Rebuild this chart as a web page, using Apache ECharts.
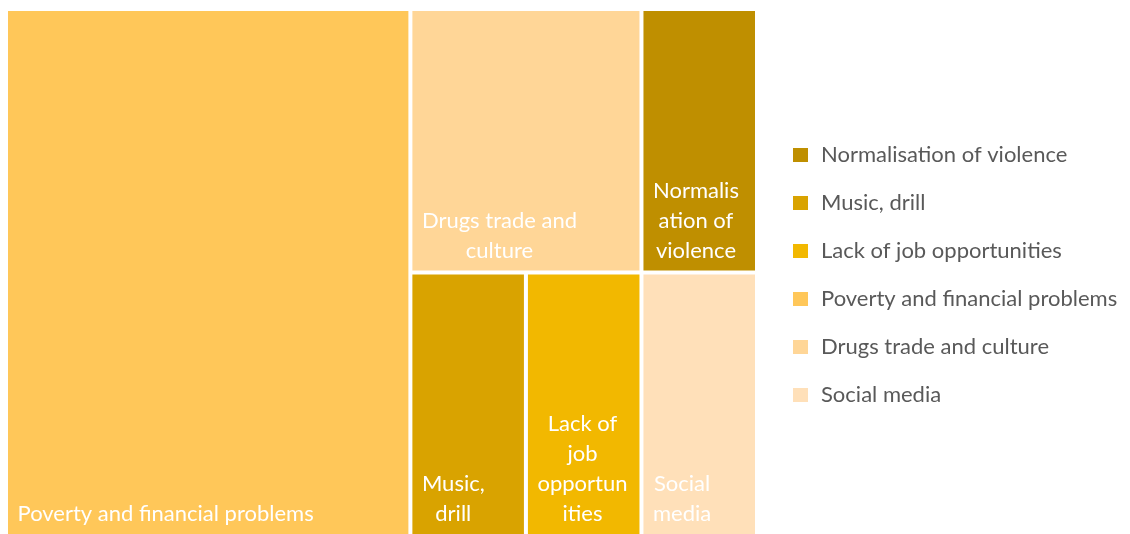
<!DOCTYPE html>
<html>
<head>
<meta charset="utf-8">
<title>Perceived causes of youth violence</title>
<script src="https://cdn.jsdelivr.net/npm/echarts@6/dist/echarts.min.js"></script>
<style>
  html, body { margin: 0; padding: 0; background: #ffffff; }
  #chart { width: 1130px; height: 534px; }
</style>
</head>
<body>
<div id="chart"></div>
<script>
// Causes and number of mentions
const categories = [
  'Poverty and financial problems',
  'Drugs trade and culture',
  'Normalisation of violence',
  'Music, drill',
  'Lack of job opportunities',
  'Social media'
];
const values = [7, 2, 1, 1, 1, 1];
const colors = ['#FFC759', '#FFD697', '#BF8F00', '#D9A300', '#F2B800', '#FFE0B9'];

// Tile captions, wrapped to fit each tile
const tileLabels = [
  'Poverty and financial problems',
  'Drugs trade and\nculture',
  'Normalis\nation of\nviolence',
  'Music,\ndrill',
  'Lack of\njob\nopportun\nities',
  'Social\nmedia'
];

// Legend order (indices into categories)
const legendOrder = [2, 3, 4, 0, 1, 5];

const FONT = 'Lato';
const FONT_SIZE = 22;
const PAD_X = 9.5;

// Width of the widest caption line, so lines can be centred within their block
const measureCtx = document.createElement('canvas').getContext('2d');
measureCtx.font = FONT_SIZE + 'px ' + FONT;
function blockWidth(text) {
  return Math.max.apply(null, text.split('\n').map(function (s) {
    return measureCtx.measureText(s).width;
  }));
}

function leaf(i) {
  return {
    name: categories[i],
    value: values[i],
    itemStyle: { color: colors[i], borderWidth: 0 },
    label: {
      formatter: tileLabels[i],
      position: [PAD_X + blockWidth(tileLabels[i]) / 2, '100%'],
      align: 'center',
      verticalAlign: 'bottom'
    }
  };
}

function group(children) {
  return {
    name: '',
    children: children,
    itemStyle: { borderWidth: 0, gapWidth: 4, borderColor: '#ffffff' },
    label: { show: false }
  };
}

// Nested grouping keeps the squarified layout in the familiar arrangement
const treeData = [
  leaf(0),
  group([
    group([leaf(1), leaf(2)]),
    group([leaf(3), group([leaf(4), leaf(5)])])
  ])
];

const chart = echarts.init(document.getElementById('chart'), null, { renderer: 'canvas' });

chart.setOption({
  animation: false,
  backgroundColor: '#ffffff',
  legend: {
    orient: 'vertical',
    left: 788,
    top: 136,
    itemWidth: 15,
    itemHeight: 14,
    itemGap: 20,
    icon: 'rect',
    selectedMode: false,
    data: legendOrder.map(function (i) { return categories[i]; }),
    textStyle: {
      color: '#595959',
      fontFamily: FONT,
      fontSize: FONT_SIZE,
      lineHeight: 28,
      padding: [0, 0, 0, 8]
    }
  },
  series: [
    {
      type: 'treemap',
      left: 8,
      top: 11,
      width: 747,
      height: 523,
      roam: false,
      nodeClick: false,
      sort: false,
      squareRatio: 1.23,
      breadcrumb: { show: false },
      itemStyle: { borderWidth: 0, gapWidth: 4, borderColor: '#ffffff' },
      label: {
        show: true,
        color: '#ffffff',
        fontFamily: FONT,
        fontSize: FONT_SIZE,
        lineHeight: 30,
        padding: [0, 0, 5, 0],
        overflow: 'none'
      },
      upperLabel: { show: false },
      data: treeData
    },
    {
      // Colour swatches for the legend only
      type: 'pie',
      center: [-200, -200],
      radius: [0, 0],
      silent: true,
      label: { show: false },
      labelLine: { show: false },
      data: legendOrder.map(function (i) {
        return { name: categories[i], value: values[i], itemStyle: { color: colors[i] } };
      })
    }
  ]
});
</script>
</body>
</html>
